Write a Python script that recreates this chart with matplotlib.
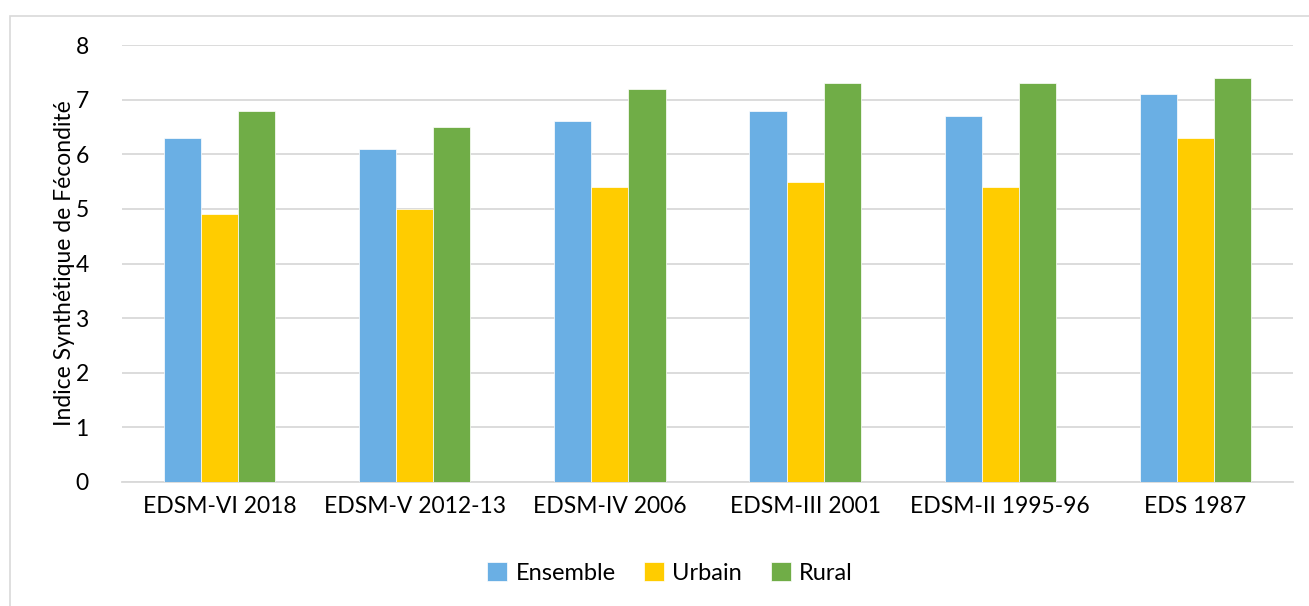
import numpy as np
import matplotlib.pyplot as plt
from matplotlib.patches import Rectangle

plt.rcParams['font.family'] = ['Lato', 'DejaVu Sans']

# Data
surveys = ['EDSM-VI 2018', 'EDSM-V 2012-13', 'EDSM-IV 2006',
           'EDSM-III 2001', 'EDSM-II 1995-96', 'EDS 1987']
ensemble = [6.3, 6.1, 6.6, 6.8, 6.7, 7.1]
urbain = [4.9, 5.0, 5.4, 5.5, 5.4, 6.3]
rural = [6.8, 6.5, 7.2, 7.3, 7.3, 7.4]

series = [('Ensemble', ensemble, '#6aafe4'),
          ('Urbain', urbain, '#ffcc00'),
          ('Rural', rural, '#70ad47')]

fig = plt.figure(figsize=(13.09, 6.06), dpi=100)
ax = fig.add_axes([122 / 1309, 1 - 482 / 606, 1171 / 1309, 437 / 606])

# outer chart frame
fig.patches.append(Rectangle((10 / 1309, -0.05), 1.2, 1 - 16 / 606 + 0.05,
                             transform=fig.transFigure, fill=False,
                             edgecolor='#d9d9d9', linewidth=1.2))

x = np.arange(len(surveys))
w = 0.19
for i, (name, vals, col) in enumerate(series):
    ax.bar(x + (i - 1) * w, vals, w, color=col, label=name,
           edgecolor='white', linewidth=0.5, zorder=3)

ax.set_xlim(-0.5, len(surveys) - 0.5)
ax.set_ylim(0, 8)
ax.set_yticks(range(0, 9))
ax.set_xticks(x)
ax.set_xticklabels(surveys)
ax.tick_params(axis='both', length=0, labelsize=16.5, colors='#000000')
ax.tick_params(axis='y', pad=24)
ax.tick_params(axis='x', pad=10)
ax.grid(axis='y', color='#d9d9d9', linewidth=1.3, zorder=0)
for s in ['top', 'right', 'left']:
    ax.spines[s].set_visible(False)
ax.spines['bottom'].set_color('#d9d9d9')
ax.spines['bottom'].set_linewidth(1.3)

ax.set_ylabel('Indice Synthétique de Fécondité', fontsize=16.5, labelpad=0)

fig.legend(loc='center', bbox_to_anchor=(670 / 1309, 1 - 573 / 606), ncol=3,
           frameon=False, fontsize=17, handlelength=0.85, handleheight=0.85,
           handletextpad=0.35, columnspacing=1.2)

fig.savefig('out.png', dpi=100)
